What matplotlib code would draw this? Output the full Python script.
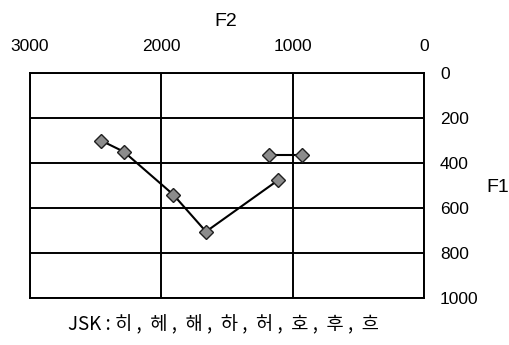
import matplotlib
matplotlib.use("Agg")
import matplotlib.pyplot as plt

# Formant values (Hz) for the vowel sequence
front_f2 = [2460, 2285, 1910, 1660, 1110]
front_f1 = [300, 350, 540, 705, 476]
back_f2 = [1178, 931]
back_f1 = [364, 364]

x_ticks = [3000, 2000, 1000, 0]
y_ticks = [0, 200, 400, 600, 800, 1000]
caption = "JSK : 히 ,  헤 ,  해 ,  하 ,  허 ,  호 ,  후 ,  흐"

plt.rcParams['font.family'] = ['Liberation Sans', 'DejaVu Sans']

fig = plt.figure(figsize=(5.09, 3.45), dpi=100)
ax = fig.add_axes([30 / 509, 1 - 298 / 345, 394 / 509, 225 / 345])

ax.set_xlim(3000, 0)
ax.set_ylim(1000, 0)
ax.set_xticks(x_ticks)
ax.set_yticks(y_ticks)
ax.xaxis.tick_top()
ax.yaxis.tick_right()
ax.tick_params(axis='both', length=0, labelsize=12.5, colors='black')
ax.tick_params(axis='x', pad=14)
ax.tick_params(axis='y', pad=11.5)
for lbl in ax.get_yticklabels():
    lbl.set_horizontalalignment('left')

ax.grid(True, color='black', linewidth=1.4)
for s in ax.spines.values():
    s.set_linewidth(1.4)
    s.set_color('black')

mk = dict(marker='D', markersize=7.5, markerfacecolor='#8c8c8c',
          markeredgecolor='#202020', markeredgewidth=1.0,
          color='black', linewidth=1.5, zorder=3)
ax.plot(front_f2, front_f1, **mk)
ax.plot(back_f2, back_f1, **mk)

fig.text(226 / 509, 1 - 21 / 345, "F2", ha='center', va='center', fontsize=14)
fig.text(498 / 509, 1 - 187 / 345, "F1", ha='center', va='center', fontsize=14)
fig.text(223 / 509, 1 - 325 / 345, caption, ha='center', va='center', fontsize=13.5,
         family=['Noto Sans CJK KR', 'Liberation Sans'])

fig.savefig("out.png", dpi=100)
